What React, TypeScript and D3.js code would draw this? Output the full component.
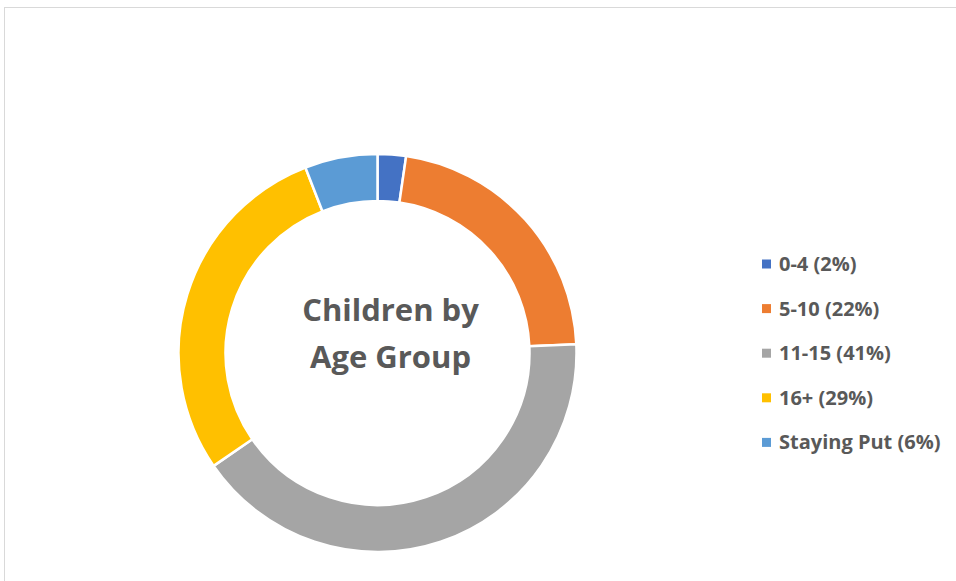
import React, { useEffect, useRef } from 'react';
import * as d3 from 'd3';

const categories = ['0-4', '5-10', '11-15', '16+', 'Staying Put'];
const shares = [2.3, 22.0, 41.1, 28.7, 5.9];
const colors = ['#4472C4', '#ED7D31', '#A5A5A5', '#FFC000', '#5B9BD5'];
const titleLines = ['Children by', 'Age Group'];

const App = () => {
  const ref = useRef<SVGSVGElement>(null);

  useEffect(() => {
    const width = 956;
    const height = 581;
    const svg = d3.select(ref.current);
    svg.selectAll('*').remove();
    svg.attr('width', width).attr('height', height);

    // chart area border (only top/left visible in frame)
    svg.append('rect')
      .attr('x', 4.5)
      .attr('y', 7.5)
      .attr('width', width + 10)
      .attr('height', height + 10)
      .attr('fill', '#fff')
      .attr('stroke', '#d9d9d9')
      .attr('stroke-width', 1);

    const cx = 377.5;
    const cy = 353;
    const outer = 199;
    const inner = 152;

    const pie = d3.pie<number>().sort(null).value((d) => d);
    const arc = d3.arc<d3.PieArcDatum<number>>().innerRadius(inner).outerRadius(outer);

    const g = svg.append('g').attr('transform', `translate(${cx},${cy})`);
    g.selectAll('path')
      .data(pie(shares))
      .enter()
      .append('path')
      .attr('d', arc)
      .attr('fill', (d, i) => colors[i])
      .attr('stroke', '#fff')
      .attr('stroke-width', 2.5);

    // title sits a little right of the hole's centre in the original
    g.append('text')
      .attr('text-anchor', 'middle')
      .attr('font-family', '"Open Sans", sans-serif')
      .attr('font-weight', 'bold')
      .attr('font-size', 31)
      .attr('fill', '#595959')
      .selectAll('tspan')
      .data(titleLines)
      .enter()
      .append('tspan')
      .attr('x', 13)
      .attr('y', (d, i) => -32 + i * 47)
      .text((d) => d);

    const legend = svg.append('g').attr('transform', 'translate(762,264)');
    const rows = legend.selectAll('g')
      .data(categories)
      .enter()
      .append('g')
      .attr('transform', (d, i) => `translate(0,${i * 44.6})`);

    rows.append('rect')
      .attr('x', 0)
      .attr('y', -4.5)
      .attr('width', 9)
      .attr('height', 9)
      .attr('fill', (d, i) => colors[i]);

    rows.append('text')
      .attr('x', 17)
      .attr('y', 7)
      .attr('font-family', '"Open Sans", sans-serif')
      .attr('font-weight', 'bold')
      .attr('font-size', 20)
      .attr('fill', '#595959')
      .text((d, i) => `${d} (${Math.round(shares[i])}%)`);
  }, []);

  return (
    <div style={{ position: 'absolute', left: 0, top: 0 }}>
      <svg ref={ref} style={{ display: 'block' }}></svg>
    </div>
  );
};

export default App;
